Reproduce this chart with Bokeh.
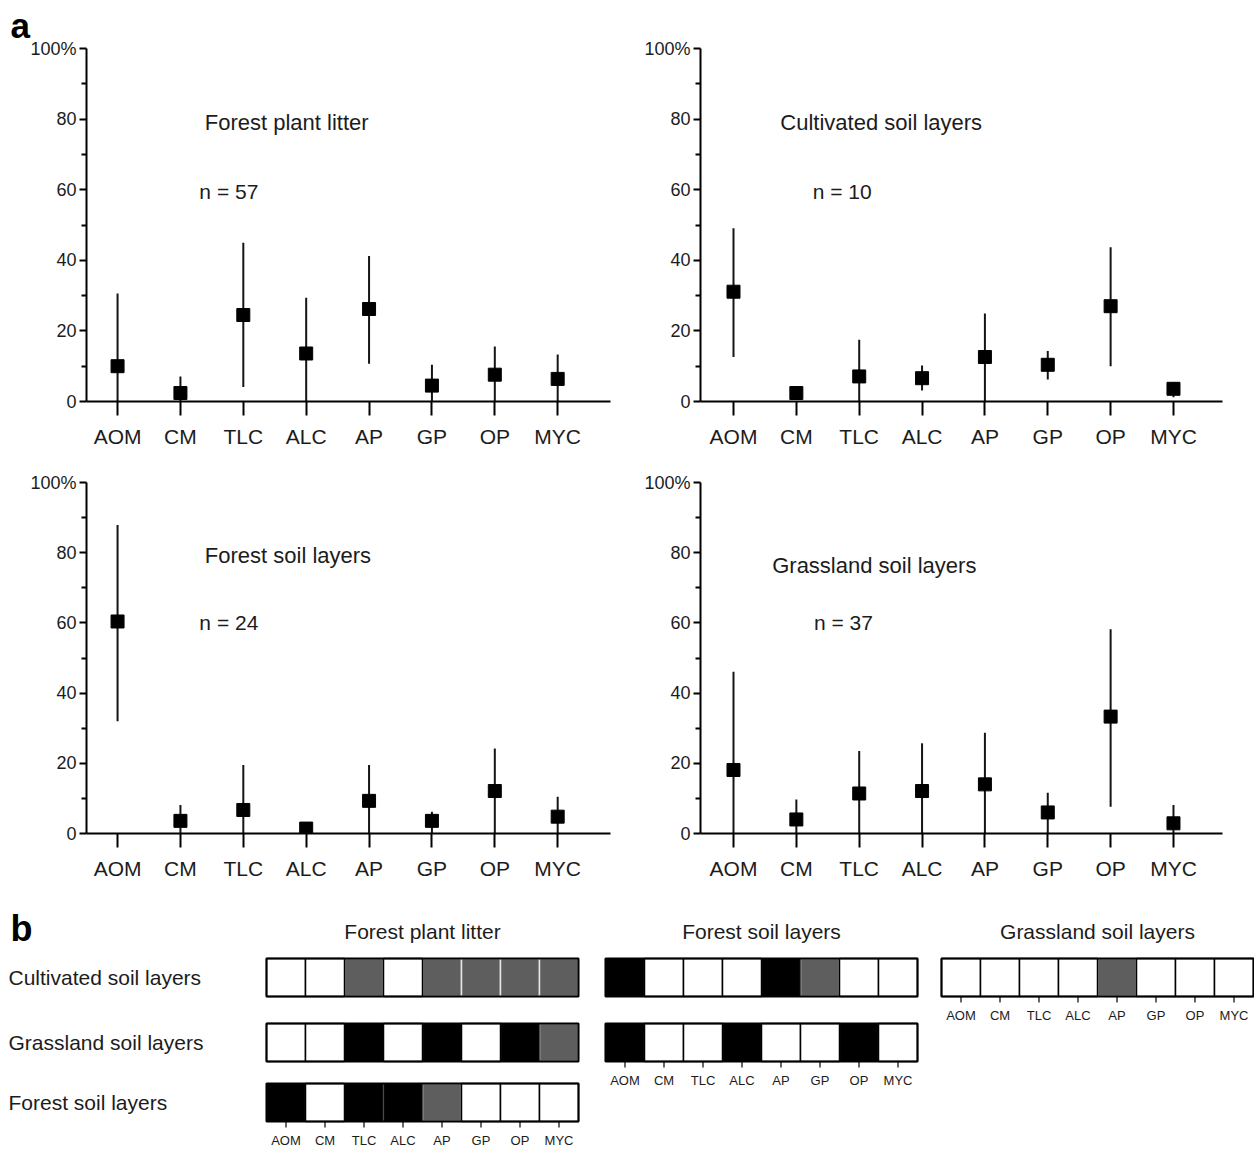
from bokeh.plotting import figure
from bokeh.layouts import column, row
from bokeh.models import Range1d, FixedTicker, Label
from bokeh.core.properties import value
from bokeh.embed import file_html
from bokeh.resources import INLINE

# ---------------- data ----------------
categories = ["AOM", "CM", "TLC", "ALC", "AP", "GP", "OP", "MYC"]

litter_mean = [10.0, 2.4, 24.5, 13.6, 26.2, 4.5, 7.6, 6.4]
litter_low = [0.0, 0.0, 4.1, 0.0, 10.7, 0.0, 0.0, 0.0]
litter_high = [30.6, 7.1, 45.0, 29.4, 41.2, 10.4, 15.6, 13.3]

cult_mean = [31.1, 2.4, 7.1, 6.6, 12.6, 10.4, 27.0, 3.6]
cult_low = [12.6, 1.0, 0.0, 3.1, 0.0, 6.2, 10.0, 1.2]
cult_high = [49.1, 3.5, 17.5, 10.2, 24.9, 14.3, 43.7, 5.5]

forest_mean = [60.4, 3.6, 6.7, 1.4, 9.3, 3.6, 12.1, 4.8]
forest_low = [32.0, 0.0, 0.0, 0.0, 0.0, 0.0, 0.0, 0.0]
forest_high = [87.9, 8.1, 19.5, 2.4, 19.5, 6.2, 24.2, 10.5]

grass_mean = [18.1, 4.0, 11.4, 12.1, 14.0, 6.0, 33.3, 2.9]
grass_low = [0.0, 0.0, 0.0, 0.0, 0.0, 0.0, 7.6, 0.0]
grass_high = [46.1, 9.7, 23.5, 25.7, 28.7, 11.6, 58.2, 8.1]

y_ticks = [0, 20, 40, 60, 80, 100]
y_minor = [10, 30, 50, 70, 90]

# panel b: 0 = white, 1 = grey, 2 = black
row_names = ["Cultivated soil layers", "Grassland soil layers", "Forest soil layers"]
b_titles = ["Forest plant litter", "Forest soil layers", "Grassland soil layers"]
b_litter = [
    [0, 0, 1, 0, 1, 1, 1, 1],
    [0, 0, 2, 0, 2, 0, 2, 1],
    [2, 0, 2, 2, 1, 0, 0, 0],
]
b_forest = [
    [2, 0, 0, 0, 2, 1, 0, 0],
    [2, 0, 0, 2, 0, 0, 2, 0],
]
b_grass = [
    [0, 0, 0, 0, 1, 0, 0, 0],
]

FONT = "Liberation Sans"
TXT = "#1c1c1c"
LEVEL_COLORS = ["#ffffff", "#5e5e5e", "#000000"]
PAGE_W = 1254


def make_a(mean, lo, hi, title, n_label, width, height, bl, br, bt, bb,
           x0, x1, tpos, npos, letter=None):
    p = figure(width=width, height=height, x_range=Range1d(x0, x1),
               y_range=Range1d(0, 100), output_backend="svg",
               toolbar_location=None, min_border_left=bl, min_border_right=br,
               min_border_top=bt, min_border_bottom=bb)
    p.outline_line_color = None
    p.xgrid.visible = False
    p.ygrid.visible = False
    idx = list(range(len(categories)))
    p.segment(x0=idx, y0=lo, x1=idx, y1=hi, line_color="#141414", line_width=2)
    p.scatter(x=idx, y=mean, marker="square", size=13,
              fill_color="#000000", line_color="#000000")

    xa = p.xaxis[0]
    xa.ticker = FixedTicker(ticks=idx, minor_ticks=[])
    xa.major_label_overrides = {i: c for i, c in enumerate(categories)}
    xa.major_tick_out = 14
    xa.major_tick_in = 0
    xa.minor_tick_out = 0
    xa.major_tick_line_width = 2
    xa.axis_line_width = 2
    xa.major_label_standoff = 9
    xa.major_label_text_font = FONT
    xa.major_label_text_font_size = "21px"
    xa.major_label_text_color = TXT

    ya = p.yaxis[0]
    ya.ticker = FixedTicker(ticks=y_ticks, minor_ticks=y_minor)
    ya.major_label_overrides = {100: "100%"}
    ya.major_tick_out = 7
    ya.major_tick_in = 0
    ya.minor_tick_out = 5
    ya.minor_tick_in = 0
    ya.major_tick_line_width = 2
    ya.minor_tick_line_width = 2
    ya.axis_line_width = 2
    ya.major_label_standoff = 3
    ya.major_label_text_font = FONT
    ya.major_label_text_font_size = "18px"
    ya.major_label_text_color = TXT

    p.add_layout(Label(x=tpos[0], y=tpos[1], text=title, text_font=FONT,
                       text_font_size="22px", text_color=TXT,
                       text_align="center", text_baseline="middle"))
    p.add_layout(Label(x=npos[0], y=npos[1], text=n_label, text_font=FONT,
                       text_font_size="21px", text_color=TXT,
                       text_align="center", text_baseline="middle"))
    if letter is not None:
        p.title.text = letter
        p.title.align = "left"
        p.title.offset = -(bl - 10)
        p.title.text_font = FONT
        p.title.text_font_size = "35px"
        p.title.text_font_style = "bold"
        p.title.text_color = "#000000"
        p.title.standoff = 7
    return p


pA = make_a(litter_mean, litter_low, litter_high, "Forest plant litter", "n = 57",
            623, 458, 86, 13, 48, 57, -0.494, 7.84, (2.69, 79.0), (1.77, 59.5),
            letter="a")
pB = make_a(cult_mean, cult_low, cult_high, "Cultivated soil layers", "n = 10",
            631, 458, 77, 32, 48, 57, -0.525, 7.78, (2.35, 79.0), (1.73, 59.5))
pC = make_a(forest_mean, forest_low, forest_high, "Forest soil layers", "n = 24",
            623, 424, 86, 13, 24, 49, -0.494, 7.84, (2.71, 79.2), (1.77, 60.1))
pD = make_a(grass_mean, grass_low, grass_high, "Grassland soil layers", "n = 37",
            631, 424, 77, 32, 24, 49, -0.525, 7.78, (2.24, 76.4), (1.75, 60.1))

# ---------------- panel b (one figure, x in cell widths, y in page pixels) ----------------
CELL = 39.0
B_W, B_H, B_TOP = PAGE_W, 268, 882
group_left = [266, 605, 941]          # left edge of each strip group (px)
row_center = [977, 1042, 1102]        # centre of strip rows (px)
CELL_H = 38

pb = figure(width=B_W, height=B_H, x_range=Range1d(0, B_W / CELL),
            y_range=Range1d(B_TOP + B_H, B_TOP), output_backend="svg",
            toolbar_location=None, min_border=0, min_border_left=0,
            min_border_right=0, min_border_top=0, min_border_bottom=0)
pb.outline_line_color = None
pb.xgrid.visible = False
pb.ygrid.visible = False
pb.axis.visible = False

layers = {0: ([], [], []), 1: ([], [], []), 2: ([], [], [])}
strip_x, strip_y = [], []
tick_x, tick_y0, tick_y1, tick_lab, tick_lab_y = [], [], [], [], []
title_x, title_y = [], []
for g, mat in enumerate([b_litter, b_forest, b_grass]):
    gx = group_left[g] / CELL
    for r, vals in enumerate(mat):
        for i, v in enumerate(vals):
            layers[v][0].append(gx + i + 0.5)
            layers[v][1].append(row_center[r])
            layers[v][2].append(LEVEL_COLORS[v])
        strip_x.append(gx + len(vals) / 2)
        strip_y.append(row_center[r])
    bottom = row_center[len(mat) - 1] + CELL_H / 2
    for i, c in enumerate(categories):
        tick_x.append(gx + i + 0.5)
        tick_y0.append(bottom)
        tick_y1.append(bottom + 6)
        tick_lab.append(c)
        tick_lab_y.append(bottom + 19)
    title_x.append(gx + len(categories) / 2)
    title_y.append(931)

xs, ys, cs = layers[1]
pb.rect(x=xs, y=ys, width=1, height=CELL_H, fill_color=cs,
        line_color="#e6e6e6", line_width=1.5)
xs, ys, cs = layers[2]
pb.rect(x=xs, y=ys, width=1, height=CELL_H, fill_color=cs,
        line_color="#4a4a4a", line_width=1.2)
xs, ys, cs = layers[0]
pb.rect(x=xs, y=ys, width=1, height=CELL_H, fill_color=cs,
        line_color="#000000", line_width=1.5)
pb.rect(x=strip_x, y=strip_y, width=len(categories), height=CELL_H,
        fill_color=None, line_color="#000000", line_width=2)

pb.segment(x0=tick_x, y0=tick_y0, x1=tick_x, y1=tick_y1, line_color="#000000",
           line_width=1.2)
pb.text(x=tick_x, y=tick_lab_y, text=tick_lab, text_font=value(FONT),
        text_font_size=value("13px"), text_color=TXT, text_align="center",
        text_baseline="middle")
pb.text(x=title_x, y=title_y, text=b_titles, text_font=value(FONT),
        text_font_size=value("21px"), text_color=TXT, text_align="center",
        text_baseline="middle")
pb.text(x=[8 / CELL] * len(row_names), y=row_center, text=row_names,
        text_font=value(FONT), text_font_size=value("21px"), text_color=TXT,
        text_align="left", text_baseline="middle")
pb.text(x=[10 / CELL], y=[928], text=["b"], text_font=value(FONT),
        text_font_size=value("36px"), text_font_style="bold", text_color="#000000",
        text_align="left", text_baseline="middle")

layout = column(row(pA, pB), row(pC, pD), pb)

open("out.html", "w").write(file_html(layout, INLINE))
